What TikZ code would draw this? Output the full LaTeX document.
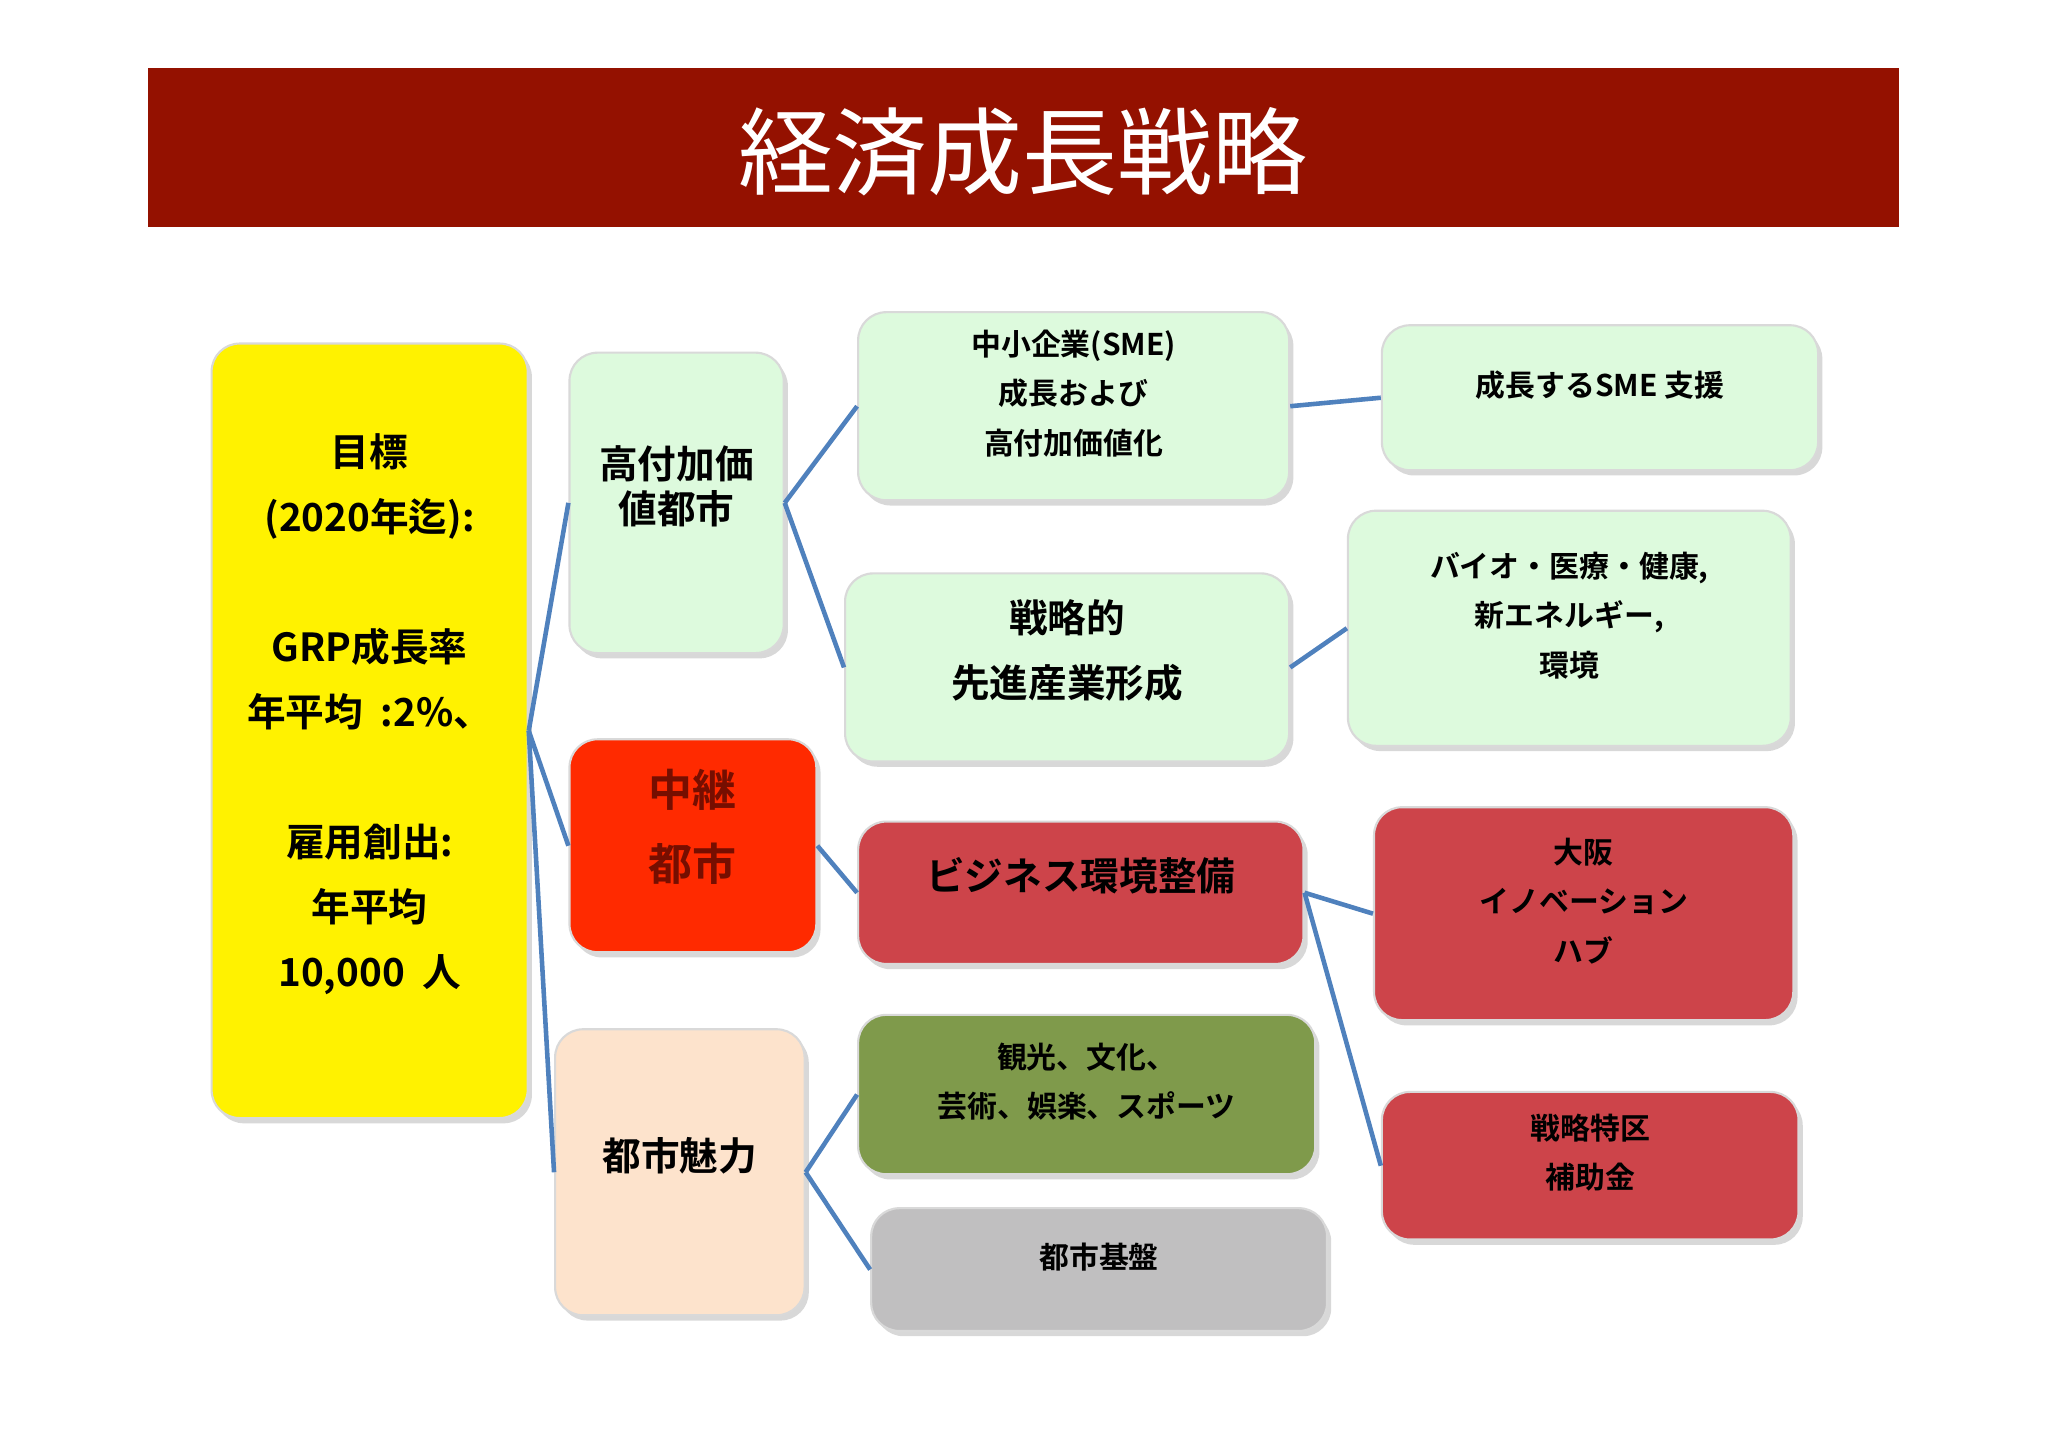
\documentclass[tikz,border=0pt]{standalone}
\usepackage{fontspec}
\setmainfont{Noto Sans CJK JP}[BoldFont={* Bold}]
\usetikzlibrary{fit,shadows}
\definecolor{titred}{HTML}{941100}
\definecolor{lgreen}{HTML}{DDFADD}
\definecolor{brred}{HTML}{FF2A00}
\definecolor{peach}{HTML}{FDE3CC}
\definecolor{dred}{HTML}{CD444A}
\definecolor{olive}{HTML}{7F9A4B}
\definecolor{lgray}{HTML}{C0BFC0}
\definecolor{conn}{HTML}{4F81BD}
\begin{document}
\begin{tikzpicture}[x=0.01306cm,y=-0.01306cm,
  box/.style={inner sep=0pt,rounded corners=8pt,draw=black!15,line width=0.6pt,
    drop shadow={shadow xshift=1.2pt,shadow yshift=-1.5pt,opacity=0.3},
    align=center,font=\bfseries},
  link/.style={draw=conn,line width=1.3pt}]
\useasboundingbox (0,0) rectangle (1568,1109);
\fill[white] (0,0) rectangle (1568,1109);
\fill[titred] (113,52) rectangle (1454,174);
\node[text=white,font=\fontsize{27}{30}\selectfont] (title) at (783,116) {経済成長戦略};

\node[box,fill=yellow,fit={(162,263)(404,856)},font=\bfseries\fontsize{11}{18.5}\selectfont] (goal)
 {目標\\{}(2020年迄):\\\mbox{}\\GRP成長率\\年平均\ \ :2\%、\\\mbox{}\\雇用創出:\\年平均\\10,000\ \ 人};
\node[box,fill=lgreen,fit={(436,270)(600,500)},font=\bfseries\fontsize{11}{13}\selectfont] (high) {高付加価\\値都市};
\node[box,fill=brred,fit={(436,566)(625,729)},text=titred!80!black,font=\bfseries\fontsize{12.5}{21}\selectfont] (relay) {中継\\都市};
\node[box,fill=peach,fit={(425,788)(616,1007)},font=\bfseries\fontsize{11}{13}\selectfont] (charm) {都市魅力};

\node[box,fill=lgreen,fit={(657,239)(987,383)},font=\bfseries\fontsize{8.5}{14}\selectfont] (sme) {中小企業(SME)\\成長および\\高付加価値化};
\node[box,fill=lgreen,fit={(647,439)(987,583)},font=\bfseries\fontsize{11}{18.5}\selectfont] (strat) {戦略的\\先進産業形成};
\node[box,fill=dred,fit={(657,629)(998,738)},font=\bfseries\fontsize{11}{13}\selectfont] (biz) {ビジネス環境整備};
\node[box,fill=olive,fit={(657,777)(1007,899)},font=\bfseries\fontsize{8.5}{14}\selectfont] (tour) {観光、文化、\\芸術、娯楽、スポーツ};
\node[box,fill=lgray,fit={(667,925)(1016,1019)},font=\bfseries\fontsize{8.5}{14}\selectfont] (infra) {都市基盤};

\node[box,fill=lgreen,fit={(1058,249)(1392,360)},font=\bfseries\fontsize{8.5}{14}\selectfont] (grow) {成長するSME 支援};
\node[box,fill=lgreen,fit={(1032,391)(1371,571)},font=\bfseries\fontsize{8.5}{14}\selectfont] (bio) {バイオ・医療・健康,\\新エネルギー,\\環境};
\node[box,fill=dred,fit={(1052,618)(1373,781)},font=\bfseries\fontsize{8.5}{14}\selectfont] (osaka) {大阪\\イノベーション\\ハブ};
\node[box,fill=dred,fit={(1058,836)(1377,949)},font=\bfseries\fontsize{8.5}{14}\selectfont] (zone) {戦略特区\\補助金};

\path[link] (goal.east) -- (high.west);
\path[link] (goal.east) -- (relay.west);
\path[link] (goal.east) -- (charm.west);
\path[link] (high.east) -- (sme.west);
\path[link] (high.east) -- (strat.west);
\path[link] (relay.east) -- (biz.west);
\path[link] (charm.east) -- (tour.west);
\path[link] (charm.east) -- (infra.west);
\path[link] (sme.east) -- (grow.west);
\path[link] (strat.east) -- (bio.west);
\path[link] (biz.east) -- (osaka.west);
\path[link] (biz.east) -- (zone.west);
\end{tikzpicture}
\end{document}
